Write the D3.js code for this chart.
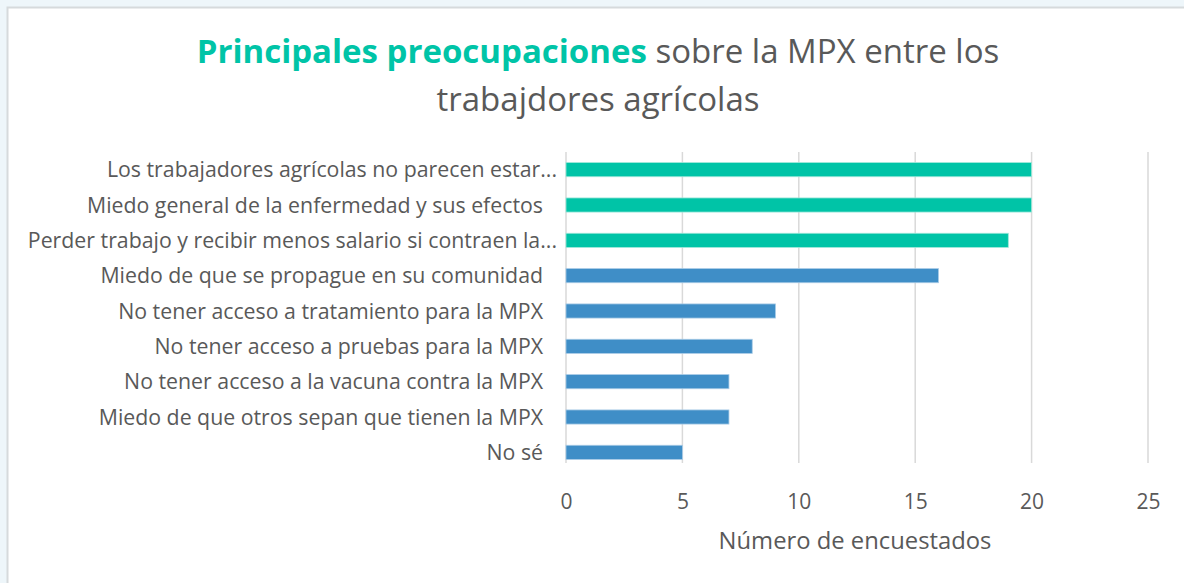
<html>
<head>
  <meta charset="utf-8">
  <script src="https://d3js.org/d3.v7.min.js"></script>
  <style>
    body { margin: 0; background: #eef6fa; }
    svg text { font-family: "Open Sans", Lato, sans-serif; }
  </style>
  <script>
    var categories = [
      "Los trabajadores agrícolas no parecen estar...",
      "Miedo general de la enfermedad y sus efectos",
      "Perder trabajo y recibir menos salario si contraen la...",
      "Miedo de que se propague en su comunidad",
      "No tener acceso a tratamiento para la MPX",
      "No tener acceso a pruebas para la MPX",
      "No tener acceso a la vacuna contra la MPX",
      "Miedo de que otros sepan que tienen la MPX",
      "No sé"
    ];
    var values = [20, 20, 19, 16, 9, 8, 7, 7, 5];
    var highlighted = [true, true, true, false, false, false, false, false, false];
    var xTicks = [0, 5, 10, 15, 20, 25];
    var titleBold = "Principales preocupaciones";
    var titleRest = " sobre la MPX entre los";
    var titleLine2 = "trabajdores agrícolas";
    var xTitle = "Número de encuestados";

    function draw() {
      var svg = d3.select("#chart");
      var W = 1184, H = 583;

      // panel
      svg.append("rect").attr("x", 7.5).attr("y", 7.5)
          .attr("width", W).attr("height", H)
          .attr("fill", "white").attr("stroke", "#d6dadc").attr("stroke-width", 2);

      var x = d3.scaleLinear().domain([0, 25]).range([566, 1148]);
      var y = d3.scaleBand().domain(categories).range([152, 470]).paddingInner(0.6).paddingOuter(0.3);

      // gridlines
      svg.append("g").selectAll("line").data(xTicks).enter().append("line")
          .attr("x1", x).attr("x2", x)
          .attr("y1", 152).attr("y2", 463)
          .attr("stroke", "#d9d9d9").attr("stroke-width", 1.5);

      // bars
      svg.append("g").selectAll("rect").data(values).enter().append("rect")
          .attr("x", x(0))
          .attr("y", (d, i) => y(categories[i]))
          .attr("width", d => x(d) - x(0))
          .attr("height", y.bandwidth())
          .attr("fill", (d, i) => highlighted[i] ? "#00c4a7" : "#3f8ec7")
          .attr("stroke", (d, i) => highlighted[i] ? "#9fe8da" : "#a9cbe6")
          .attr("stroke-width", 0.8);

      // category labels
      svg.append("g").selectAll("text").data(categories).enter().append("text")
          .attr("x", d => d.endsWith("...") ? 557 : 543)
          .attr("y", d => y(d) + y.bandwidth() / 2)
          .attr("dy", "0.36em")
          .attr("text-anchor", "end")
          .attr("font-size", 21.3)
          .attr("fill", "#595959")
          .text(d => d);

      // x axis labels
      var ax = svg.append("g").attr("transform", "translate(0,494)")
          .call(d3.axisBottom(x).tickValues(xTicks).tickSize(0).tickPadding(0));
      ax.select(".domain").remove();
      ax.selectAll("text").attr("font-size", 21).attr("fill", "#595959")
          .attr("dy", "0.71em");

      svg.append("text").attr("x", x(12.5) - 2).attr("y", 549)
          .attr("text-anchor", "middle").attr("font-size", 23.8).attr("fill", "#595959")
          .text(xTitle);

      // title
      var t = svg.append("text").attr("x", 598).attr("y", 63)
          .attr("text-anchor", "middle").attr("font-size", 33).attr("fill", "#595959");
      t.append("tspan").attr("fill", "#00c4a7").attr("font-weight", "bold").text(titleBold);
      t.append("tspan").text(titleRest);
      svg.append("text").attr("x", 598).attr("y", 111)
          .attr("text-anchor", "middle").attr("font-size", 33).attr("fill", "#595959")
          .text(titleLine2);
    }
  </script>
</head>
<body onload="draw()">
  <svg id="chart" width="1184" height="583"></svg>
</body>
</html>
